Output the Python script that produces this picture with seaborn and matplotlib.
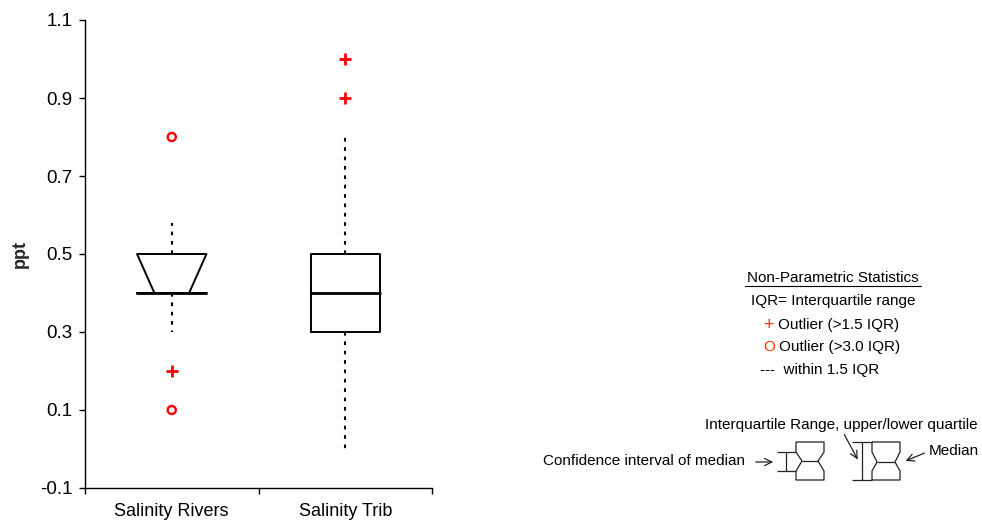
import numpy as np
import pandas as pd
import matplotlib
matplotlib.use("Agg")
import matplotlib.pyplot as plt
import seaborn as sns

# ---------------- data ----------------
categories = ["Salinity Rivers", "Salinity Trib"]
q1_vals = [0.4, 0.3]
median_vals = [0.4, 0.4]
q3_vals = [0.5, 0.5]
whisker_low = [0.3, 0.0]
whisker_high = [0.58, 0.8]
ci_low = [0.4, 0.3]
ci_high = [0.5, 0.5]
notched = [True, False]

mild_outlier_cat = ["Salinity Rivers", "Salinity Trib", "Salinity Trib"]
mild_outlier_val = [0.2, 0.9, 1.0]
extreme_outlier_cat = ["Salinity Rivers", "Salinity Rivers"]
extreme_outlier_val = [0.8, 0.1]

y_ticks = [-0.1, 0.1, 0.3, 0.5, 0.7, 0.9, 1.1]
y_label = "ppt"

legend_title = "Non-Parametric Statistics"
legend_lines = ["IQR= Interquartile range", "Outlier (>1.5 IQR)",
                "Outlier (>3.0 IQR)", "---  within 1.5 IQR"]

# ---------------- style ----------------
sns.set_style("ticks")
plt.rcParams["font.family"] = ["Liberation Sans", "DejaVu Sans"]
plt.rcParams["font.size"] = 13

W, H = 982, 525
fig = plt.figure(figsize=(W / 100, H / 100), dpi=100)
fig.patch.set_facecolor("white")

ax = fig.add_axes([85 / W, 1 - 488 / H, (432 - 85) / W, (488 - 20) / H])
ax.set_facecolor("white")

box_w = 0.4
lw_box = 1.4
whisker_style = dict(color="black", linewidth=1.5, linestyle=(0, (1.75, 2.75)))

for i, cat in enumerate(categories):
    stats = dict(med=median_vals[i], q1=q1_vals[i], q3=q3_vals[i],
                 whislo=whisker_low[i], whishi=whisker_high[i],
                 cilo=ci_low[i], cihi=ci_high[i], fliers=[], label=cat)
    res = ax.bxp([stats], positions=[i], widths=box_w,
                 capwidths=box_w * 0.77,
                 shownotches=notched[i], showcaps=False, showfliers=False,
                 manage_ticks=False, patch_artist=False,
                 boxprops=dict(color="black", linewidth=lw_box),
                 whiskerprops=whisker_style,
                 medianprops=dict(color="black", linewidth=2.0))
    for m in res["medians"]:
        m.set_xdata([i - box_w / 2 - 0.005, i + box_w / 2 + 0.005])

mild_df = pd.DataFrame({"x": [categories.index(c) for c in mild_outlier_cat],
                        "y": mild_outlier_val})
ext_df = pd.DataFrame({"x": [categories.index(c) for c in extreme_outlier_cat],
                       "y": extreme_outlier_val})
sns.scatterplot(data=mild_df, x="x", y="y", marker="+", s=80, color="red",
                linewidth=2.0, ax=ax, zorder=5, legend=False)
sns.scatterplot(data=ext_df, x="x", y="y", marker="o", s=34, color="red",
                facecolor="none", edgecolor="red", linewidth=1.7, ax=ax,
                zorder=5, legend=False)

ax.set_xlim(-0.5, 1.5)
ax.set_ylim(-0.1, 1.1)
ax.set_yticks(y_ticks)
ax.set_yticklabels([f"{v:.1f}" for v in y_ticks])
ax.set_xticks(range(len(categories)))
ax.set_xticklabels(categories)
ax.set_xticks([-0.5, 0.5, 1.5], minor=True)
ax.tick_params(axis="x", which="major", length=0, pad=11, labelsize=13,
               colors="black")
ax.tick_params(axis="x", which="minor", length=4, width=1.0, direction="out",
               colors="black")
ax.tick_params(axis="y", length=4, width=1.0, direction="out", labelsize=13.5,
               colors="black", pad=5)
ax.set_xlabel("")
ax.set_ylabel(y_label, fontweight="bold", fontsize=13)
ax.yaxis.set_label_coords((29 - 85) / (432 - 85), 0.5)
for s in ["top", "right"]:
    ax.spines[s].set_visible(False)
for s in ["left", "bottom"]:
    ax.spines[s].set_linewidth(1.0)
    ax.spines[s].set_color("black")

# ---------------- explanatory legend (overlay in pixel coords) ----------------
ov = fig.add_axes([0, 0, 1, 1], facecolor="none")
ov.set_xlim(0, W)
ov.set_ylim(H, 0)
ov.axis("off")

fs = 11
tk = dict(fontsize=fs, color="black", va="center")
ov.text(833, 278, legend_title, ha="center", **tk)
ov.plot([745, 921], [286, 286], color="black", lw=0.8)
ov.text(833, 301, legend_lines[0], ha="center", **tk)
ov.text(774, 325, "+", ha="right", fontsize=13, color="#ff3300", va="center")
ov.text(778, 325, legend_lines[1], ha="left", **tk)
ov.text(775, 347, "O", ha="right", fontsize=fs, color="#ff3300", va="center")
ov.text(779, 347, legend_lines[2], ha="left", **tk)
ov.text(760, 370, legend_lines[3], ha="left", **tk)

lk = dict(color="#222222", lw=0.9, solid_capstyle="butt")
# icon 1: notched box with CI bracket
ov.plot([796, 824, 824, 818, 824, 824, 796, 796, 802, 796, 796],
        [442, 442, 452, 461, 471, 480, 480, 471, 461, 452, 442], **lk)
ov.plot([802, 818], [461, 461], **lk)
ov.plot([786, 786], [452, 471], **lk)
ov.plot([777, 796], [452, 452], **lk)
ov.plot([777, 796], [471, 471], **lk)
ov.annotate("", xy=(776, 462), xytext=(753, 462),
            arrowprops=dict(arrowstyle="->", color="#222222", lw=0.9))
ov.text(543, 461, "Confidence interval of median", ha="left", **tk)

# icon 2: notched box with IQR bracket
ov.plot([872, 900, 900, 895, 900, 900, 872, 872, 877, 872, 872],
        [442, 442, 452, 462, 471, 480, 480, 471, 462, 452, 442], **lk)
ov.plot([877, 895], [462, 462], **lk)
ov.plot([862, 862], [442, 480], **lk)
ov.plot([852, 872], [442, 442], **lk)
ov.plot([852, 872], [480, 480], **lk)
ov.annotate("", xy=(859, 462), xytext=(843, 432),
            arrowprops=dict(arrowstyle="->", color="#222222", lw=0.9))
ov.annotate("", xy=(903, 462), xytext=(927, 452),
            arrowprops=dict(arrowstyle="->", color="#222222", lw=0.9))
ov.text(705, 425, "Interquartile Range, upper/lower quartile", ha="left", **tk)
ov.text(929, 451, "Median", ha="left", **tk)

fig.savefig("out.png", dpi=100, facecolor="white")
